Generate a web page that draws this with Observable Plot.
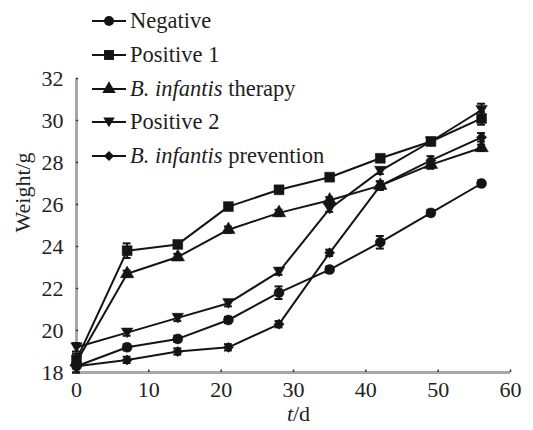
<!DOCTYPE html>
<html>
<head>
<meta charset="utf-8">
<script src="https://cdn.jsdelivr.net/npm/d3@7"></script>
<script src="https://cdn.jsdelivr.net/npm/@observablehq/plot@0.6"></script>
<style>
  body { margin: 0; background: #fff; }
  #wrap { position: relative; width: 533px; height: 430px; font-family: "Liberation Serif", "Times New Roman", Times, "DejaVu Serif", serif; color: #1e1e1e; }
  #legend { position: absolute; left: 0; top: 0; }
  .row { position: absolute; left: 92px; height: 26px; display: flex; align-items: center; font-size: 22.5px; white-space: nowrap; }
  .row svg { margin-right: 4px; }
  #xlabel { position: absolute; left: 0; width: 533px; text-align: center; top: 402px; font-size: 22px; line-height: 24px; padding-left: 64px; box-sizing: border-box; }
</style>
</head>
<body>
<div id="wrap"><div id="legend"></div><div id="xlabel"></div></div>
<script>
// ---- data ----
const days = [0, 7, 14, 21, 28, 35, 42, 49, 56];
const negative   = [18.3, 19.2, 19.6, 20.5, 21.8, 22.9, 24.2, 25.6, 27.0];
const positive1  = [18.6, 23.8, 24.1, 25.9, 26.7, 27.3, 28.2, 29.0, 30.1];
const therapy    = [18.5, 22.7, 23.5, 24.8, 25.6, 26.2, 26.9, 27.9, 28.7];
const positive2  = [19.2, 19.9, 20.6, 21.3, 22.8, 25.8, 27.6, 29.0, 30.5];
const prevention = [18.3, 18.6, 19.0, 19.2, 20.3, 23.7, 26.9, 28.1, 29.2];
const sdNegative   = [0.3, 0.15, 0.15, 0.15, 0.3, 0.15, 0.3, 0.15, 0.15];
const sdPositive1  = [0.3, 0.35, 0.15, 0.15, 0.15, 0.15, 0.15, 0.15, 0.3];
const sdTherapy    = [0.3, 0.15, 0.15, 0.15, 0.15, 0.15, 0.2, 0.2, 0.15];
const sdPositive2  = [0.2, 0.15, 0.15, 0.15, 0.15, 0.15, 0.15, 0.15, 0.3];
const sdPrevention = [0.3, 0.15, 0.15, 0.15, 0.15, 0.15, 0.2, 0.2, 0.2];
const seriesNames = ["Negative", "Positive 1", "B. infantis therapy", "Positive 2", "B. infantis prevention"];
const legendLabels = ["Negative", "Positive 1", "<i>B. infantis</i> therapy", "Positive 2", "<i>B. infantis</i> prevention"];
const xTicks = [0, 10, 20, 30, 40, 50, 60];
const yTicks = [18, 20, 22, 24, 26, 28, 30, 32];
const xTitle = "<i>t</i>/d";
const yTitle = "Weight/g";

// custom downward triangle
const triangleDown = {
  draw(ctx, size) {
    const h = Math.sqrt(size) * 1.0;
    ctx.moveTo(-h * 0.6, -h * 0.48);
    ctx.lineTo(h * 0.6, -h * 0.48);
    ctx.lineTo(0, h * 0.55);
    ctx.closePath();
  }
};
const symbols = ["circle", "square", "triangle", triangleDown, "diamond2"];
const radii = [5, 5.6, 5, 5.4, 4.6];
const d3Symbols = [d3.symbolCircle, d3.symbolSquare, d3.symbolTriangle, triangleDown, d3.symbolDiamond2];

const valueSets = [negative, positive1, therapy, positive2, prevention];
const sdSets = [sdNegative, sdPositive1, sdTherapy, sdPositive2, sdPrevention];
const series = valueSets.map((vals, i) =>
  days.map((d, j) => ({series: seriesNames[i], day: d, w: vals[j], sd: sdSets[i][j]}))
);
const all = series.flat();

const ink = "#141414";
const font = "'Liberation Serif', 'Times New Roman', Times, 'DejaVu Serif', serif";
const marks = [
  Plot.ruleY([18], {x1: 0, x2: 60, stroke: "#a8a8a8", strokeWidth: 3}),
  Plot.ruleX([0], {y1: 18, y2: 32, stroke: "#a8a8a8", strokeWidth: 3}),
  Plot.ruleX(xTicks.slice(1), {x: d => d, y1: 18, y2: 18.12, stroke: "#333", strokeWidth: 1.5}),
  Plot.ruleY(yTicks.slice(1), {y: d => d, x1: 0, x2: 0.3, stroke: "#333", strokeWidth: 1.5}),
  Plot.axisX(xTicks, {tickSize: 0, tickPadding: 9, fontSize: 22, fill: "#222", label: null, fontFamily: font}),
  Plot.axisY(yTicks, {tickSize: 0, tickPadding: 13, fontSize: 22, fill: "#222", label: null, fontFamily: font}),
  ...series.map(s => Plot.line(s, {x: "day", y: "w", stroke: ink, strokeWidth: 2})),
  Plot.ruleX(all, {x: "day", y1: d => d.w - d.sd, y2: d => d.w + d.sd, stroke: ink, strokeWidth: 2}),
  Plot.ruleY(all, {y: d => d.w - d.sd, x1: d => d.day - 0.55, x2: d => d.day + 0.55, stroke: ink, strokeWidth: 2}),
  Plot.ruleY(all, {y: d => d.w + d.sd, x1: d => d.day - 0.55, x2: d => d.day + 0.55, stroke: ink, strokeWidth: 2}),
  ...series.map((s, i) => Plot.dot(s, {x: "day", y: "w", symbol: () => symbols[i], r: radii[i], fill: ink, stroke: ink, strokeWidth: 0.5})),
  Plot.text([yTitle], {frameAnchor: "left", dx: -54, dy: 7, rotate: -90, text: d => d, fontSize: 22, fill: "#222", fontFamily: font})
];

const chart = Plot.plot({
  width: 533,
  height: 430,
  marginLeft: 76,
  marginRight: 23,
  marginTop: 78,
  marginBottom: 58,
  x: {domain: [0, 60]},
  y: {domain: [18, 32]},
  symbol: {type: "identity"},
  style: {fontFamily: font, background: "transparent", overflow: "visible"},
  marks
});
document.getElementById("wrap").prepend(chart);
document.getElementById("xlabel").innerHTML = xTitle;

// legend
const legend = document.getElementById("legend");
const rowY = [21, 55, 89, 122, 156];
seriesNames.forEach((name, i) => {
  const row = document.createElement("div");
  row.className = "row";
  row.style.top = (rowY[i] - 13) + "px";
  const size = Math.PI * radii[i] * radii[i];
  const path = d3.symbol(d3Symbols[i], size)();
  row.innerHTML = `<svg width="34" height="20" viewBox="-17 -10 34 20"><line x1="-17" x2="17" y1="0" y2="0" stroke="${ink}" stroke-width="2"/><path d="${path}" fill="${ink}"/></svg><span>${legendLabels[i]}</span>`;
  legend.appendChild(row);
});
</script>
</body>
</html>
